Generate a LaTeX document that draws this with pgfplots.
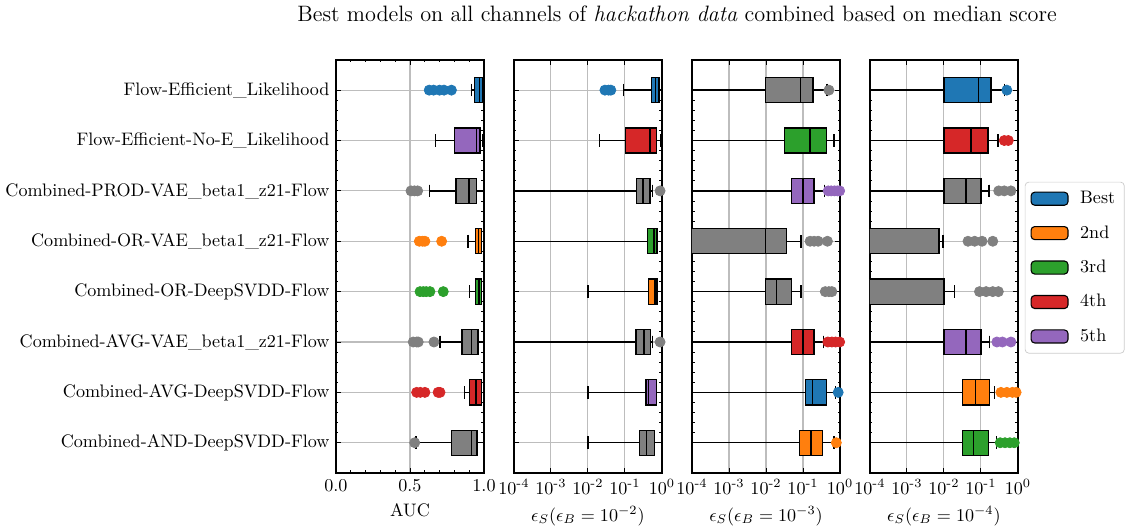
\documentclass[border=0pt]{standalone}
\usepackage{amsmath}
\usepackage{pgfplots}
\pgfplotsset{compat=1.18}
\usepgfplotslibrary{statistics}

\definecolor{cB}{HTML}{1F77B4}
\definecolor{cO}{HTML}{FF7F0E}
\definecolor{cGr}{HTML}{2CA02C}
\definecolor{cR}{HTML}{D62728}
\definecolor{cP}{HTML}{9467BD}
\definecolor{cG}{HTML}{808080}
\definecolor{gridc}{HTML}{BDBDBD}
\definecolor{legc}{HTML}{CCCCCC}

\pgfplotsset{
  panel/.style={
    scale only axis, width=81.8pt, height=228.2pt,
    ymin=0.4, ymax=8.6, y dir=reverse,
    ytick={1,...,8}, minor y tick num=4,
    ymajorgrids, xmajorgrids,
    grid style={gridc, line width=0.6pt},
    tick align=inside, tick pos=both,
    major tick length=2.6pt, minor tick length=1.4pt,
    every tick/.append style={black, line width=0.5pt},
    axis line style={line width=0.7pt},
  },
  % eps_S panels: values are log10(eps_S), ticks labelled as powers of ten
  logpanel/.style={
    panel, xmin=-4, xmax=0,
    xtick={-4,-3,-2,-1,0},
    xticklabels={$10^{\text{-}4}$,$10^{\text{-}3}$,$10^{\text{-}2}$,$10^{\text{-}1}$,$10^{0}$},
    yticklabels={},
  },
  boxplot/draw direction=x,
  boxplot/box extend=0.5,
  boxplot/whisker extend=0.25,
  boxplot/every median/.style={black, line width=0.8pt},
  boxplot/every whisker/.style={black, line width=0.8pt},
}

% colour, position, lower whisker, lower quartile, median, upper quartile, upper whisker
\newcommand{\bx}[7]{\addplot[forget plot, draw=black, fill=#1, line width=0.7pt,
  boxplot prepared={draw position=#2, lower whisker=#3, lower quartile=#4,
  median=#5, upper quartile=#6, upper whisker=#7}] coordinates {};}
% outliers
\newcommand{\ol}[2]{\addplot[forget plot, only marks, mark=*, mark size=2.8pt, color=#1] coordinates {#2};}

\begin{document}
\begin{tikzpicture}
\path[use as bounding box] (-185.6pt,-30.4pt) rectangle (437.6pt,261.3pt);

\node[font=\fontsize{12.3}{14}\selectfont] at (188.5pt,253.6pt)
  {Best models on all channels of \textit{hackathon data} combined based on median score};

% AUC
\begin{axis}[panel, at={(0pt,0pt)},
  xmin=0, xmax=1, xtick={0,0.5,1}, minor x tick num=4,
  xticklabel style={/pgf/number format/.cd, fixed, fixed zerofill, precision=1},
  xlabel={AUC},
  yticklabels={Flow-Efficient\_Likelihood, Flow-Efficient-No-E\_Likelihood,
    Combined-PROD-VAE\_beta1\_z21-Flow, Combined-OR-VAE\_beta1\_z21-Flow,
    Combined-OR-DeepSVDD-Flow, Combined-AVG-VAE\_beta1\_z21-Flow,
    Combined-AVG-DeepSVDD-Flow, Combined-AND-DeepSVDD-Flow}]
\bx{cB}{1}{0.917}{0.935}{0.971}{0.991}{0.998}
\ol{cB}{(0.63,1) (0.66,1) (0.70,1) (0.73,1) (0.78,1)}
\bx{cP}{2}{0.671}{0.80}{0.948}{0.973}{0.991}
\bx{cG}{3}{0.631}{0.811}{0.899}{0.950}{1.0}
\ol{cG}{(0.507,3) (0.53,3) (0.552,3)}
\bx{cO}{4}{0.892}{0.941}{0.962}{0.984}{0.998}
\ol{cO}{(0.563,4) (0.585,4) (0.601,4) (0.714,4)}
\bx{cGr}{5}{0.901}{0.941}{0.966}{0.984}{0.998}
\ol{cGr}{(0.568,5) (0.59,5) (0.61,5) (0.635,5) (0.725,5)}
\bx{cG}{6}{0.703}{0.851}{0.917}{0.959}{1.0}
\ol{cG}{(0.522,6) (0.545,6) (0.556,6) (0.662,6)}
\bx{cR}{7}{0.869}{0.901}{0.946}{0.984}{0.998}
\ol{cR}{(0.545,7) (0.57,7) (0.601,7) (0.69,7) (0.703,7)}
\bx{cG}{8}{0.541}{0.782}{0.917}{0.953}{1.0}
\ol{cG}{(0.532,8)}
\end{axis}

% eps_B = 1e-2  (log10 eps_S)
\begin{axis}[logpanel, at={(98.3pt,0pt)}, xlabel={$\epsilon_S(\epsilon_B=10^{-2})$}]
\bx{cB}{1}{-1.04}{-0.28}{-0.17}{-0.08}{-0.004}
\ol{cB}{(-1.54,1) (-1.44,1) (-1.38,1)}
\bx{cR}{2}{-1.69}{-0.99}{-0.32}{-0.14}{-0.04}
\bx{cG}{3}{-6}{-0.68}{-0.51}{-0.32}{-0.26}
\ol{cG}{(-0.05,3)}
\bx{cGr}{4}{-6}{-0.38}{-0.21}{-0.13}{0}
\bx{cO}{5}{-2}{-0.36}{-0.19}{-0.13}{0}
\bx{cG}{6}{-6}{-0.70}{-0.49}{-0.31}{-0.26}
\ol{cG}{(-0.05,6)}
\bx{cP}{7}{-2}{-0.43}{-0.36}{-0.14}{0}
\bx{cG}{8}{-2}{-0.61}{-0.41}{-0.21}{-0.004}
\end{axis}

% eps_B = 1e-3
\begin{axis}[logpanel, at={(196.7pt,0pt)}, xlabel={$\epsilon_S(\epsilon_B=10^{-3})$}]
\bx{cG}{1}{-6}{-2.01}{-1.07}{-0.73}{-0.35}
\ol{cG}{(-0.30,1)}
\bx{cGr}{2}{-6}{-1.50}{-0.81}{-0.37}{-0.16}
\bx{cP}{3}{-6}{-1.31}{-1.0}{-0.70}{-0.42}
\ol{cP}{(-0.32,3) (-0.24,3) (-0.15,3) (-0.07,3) (-0.01,3)}
\bx{cG}{4}{-6}{-6}{-2.01}{-1.44}{-1.06}
\ol{cG}{(-0.81,4) (-0.70,4) (-0.59,4) (-0.34,4)}
\bx{cG}{5}{-6}{-2.01}{-1.71}{-1.31}{-1.06}
\ol{cG}{(-0.40,5) (-0.30,5) (-0.22,5)}
\bx{cR}{6}{-6}{-1.31}{-1.0}{-0.70}{-0.44}
\ol{cR}{(-0.33,6) (-0.22,6) (-0.12,6) (-0.01,6)}
\bx{cB}{7}{-6}{-0.93}{-0.74}{-0.37}{-0.12}
\ol{cB}{(-0.05,7)}
\bx{cO}{8}{-6}{-1.09}{-0.79}{-0.48}{-0.16}
\ol{cO}{(-0.10,8)}
\end{axis}

% eps_B = 1e-4
\begin{axis}[logpanel, at={(295.0pt,0pt)}, xlabel={$\epsilon_S(\epsilon_B=10^{-4})$},
  legend style={at={(1.046,0.705)}, anchor=north west, draw=legc,
    rounded corners=2pt, row sep=6.6pt, inner sep=3pt,
    /tikz/every odd column/.append style={column sep=4.4pt}},
  legend cell align=left,
  legend image code/.code={\draw[#1, draw=black, line width=0.6pt] (0pt,-3.6pt) rectangle (20.4pt,3.6pt);}]
\bx{cB}{1}{-6}{-2.0}{-1.06}{-0.73}{-0.37}
\ol{cB}{(-0.30,1)}
\bx{cR}{2}{-6}{-2.0}{-1.27}{-0.81}{-0.54}
\ol{cR}{(-0.37,2) (-0.26,2)}
\bx{cG}{3}{-6}{-2.0}{-1.40}{-1.0}{-0.78}
\ol{cG}{(-0.52,3) (-0.37,3) (-0.19,3)}
\bx{cG}{4}{-6}{-6}{-6}{-2.13}{-2.02}
\ol{cG}{(-1.35,4) (-1.17,4) (-0.97,4) (-0.68,4)}
\bx{cG}{5}{-6}{-6}{-6}{-2.0}{-1.71}
\ol{cG}{(-1.04,5) (-0.86,5) (-0.68,5) (-0.53,5)}
\bx{cP}{6}{-6}{-2.0}{-1.40}{-1.0}{-0.77}
\ol{cP}{(-0.57,6) (-0.42,6) (-0.19,6)}
\bx{cO}{7}{-6}{-1.50}{-1.15}{-0.77}{-0.63}
\ol{cO}{(-0.46,7) (-0.30,7) (-0.15,7) (-0.05,7)}
\bx{cGr}{8}{-6}{-1.50}{-1.20}{-0.79}{-0.58}
\ol{cGr}{(-0.48,8) (-0.35,8) (-0.22,8) (-0.10,8)}
\addlegendimage{fill=cB}\addlegendentry{Best}
\addlegendimage{fill=cO}\addlegendentry{2nd}
\addlegendimage{fill=cGr}\addlegendentry{3rd}
\addlegendimage{fill=cR}\addlegendentry{4th}
\addlegendimage{fill=cP}\addlegendentry{5th}
\end{axis}
\end{tikzpicture}
\end{document}
